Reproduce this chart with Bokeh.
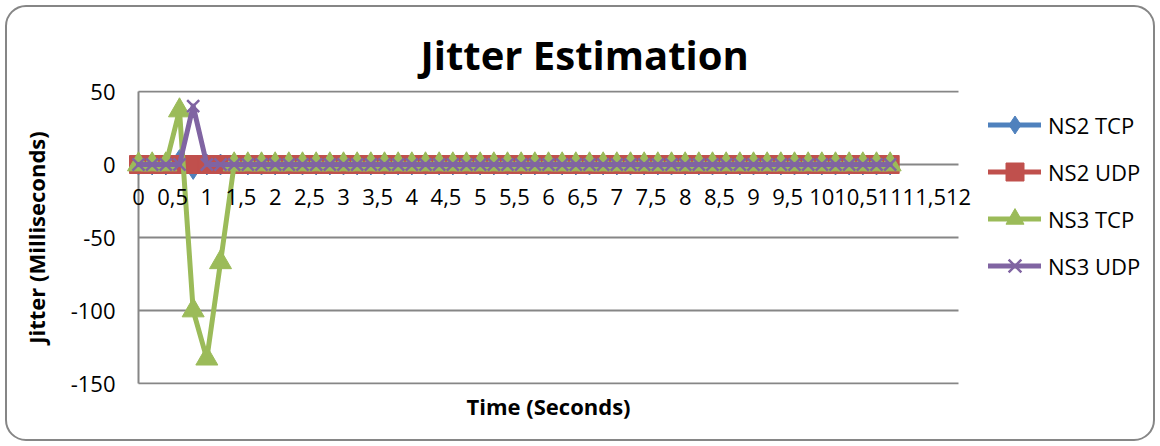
from bokeh.plotting import figure
from bokeh.models import (ColumnDataSource, Legend, LegendItem, LabelSet,
                          FixedTicker, Range1d, Title)
from bokeh.core.properties import value
from bokeh.embed import file_html
from bokeh.resources import INLINE

# Sample times (seconds)
time_s = [0.0, 0.2, 0.4, 0.6, 0.8, 1.0, 1.2, 1.4, 1.6, 1.8,
          2.0, 2.2, 2.4, 2.6, 2.8, 3.0, 3.2, 3.4, 3.6, 3.8,
          4.0, 4.2, 4.4, 4.6, 4.8, 5.0, 5.2, 5.4, 5.6, 5.8,
          6.0, 6.2, 6.4, 6.6, 6.8, 7.0, 7.2, 7.4, 7.6, 7.8,
          8.0, 8.2, 8.4, 8.6, 8.8, 9.0, 9.2, 9.4, 9.6, 9.8,
          10.0, 10.2, 10.4, 10.6, 10.8, 11.0]

# Jitter per simulator / transport (milliseconds)
ns2_tcp = [0, 0, 0, 3, -3, 0, 0, 0, 0, 0,
           0, 0, 0, 0, 0, 0, 0, 0, 0, 0,
           0, 0, 0, 0, 0, 0, 0, 0, 0, 0,
           0, 0, 0, 0, 0, 0, 0, 0, 0, 0,
           0, 0, 0, 0, 0, 0, 0, 0, 0, 0,
           0, 0, 0, 0, 0, 0]
ns2_udp = [0, 0, 0, 0, 0, 0, 0, 0, 0, 0,
           0, 0, 0, 0, 0, 0, 0, 0, 0, 0,
           0, 0, 0, 0, 0, 0, 0, 0, 0, 0,
           0, 0, 0, 0, 0, 0, 0, 0, 0, 0,
           0, 0, 0, 0, 0, 0, 0, 0, 0, 0,
           0, 0, 0, 0, 0, 0]
ns3_tcp = [0, 0, 0, 37, -100, -133, -67, 0, 0, 0,
           0, 0, 0, 0, 0, 0, 0, 0, 0, 0,
           0, 0, 0, 0, 0, 0, 0, 0, 0, 0,
           0, 0, 0, 0, 0, 0, 0, 0, 0, 0,
           0, 0, 0, 0, 0, 0, 0, 0, 0, 0,
           0, 0, 0, 0, 0, 0]
ns3_udp = [0, 0, 0, 0, 40, 0, 0, 0, 0, 0,
           0, 0, 0, 0, 0, 0, 0, 0, 0, 0,
           0, 0, 0, 0, 0, 0, 0, 0, 0, 0,
           0, 0, 0, 0, 0, 0, 0, 0, 0, 0,
           0, 0, 0, 0, 0, 0, 0, 0, 0, 0,
           0, 0, 0, 0, 0, 0]

series_names = ["NS2 TCP", "NS2 UDP", "NS3 TCP", "NS3 UDP"]

x_tick_values = [0, 0.5, 1, 1.5, 2, 2.5, 3, 3.5, 4, 4.5, 5, 5.5, 6,
                 6.5, 7, 7.5, 8, 8.5, 9, 9.5, 10, 10.5, 11, 11.5, 12]
x_tick_labels = ["0", "0,5", "1", "1,5", "2", "2,5", "3", "3,5", "4", "4,5",
                 "5", "5,5", "6", "6,5", "7", "7,5", "8", "8,5", "9", "9,5",
                 "10", "10,5", "11", "11,5", "12"]
y_tick_values = [-150, -100, -50, 0, 50]
y_tick_labels = ["-150", "-100", "-50", "0", "50"]

FONT = "Open Sans"
GREY = "#868686"

# Plot area: 0..12 s spans 820 px, 50..-150 ms spans 292 px.  The frame
# reaches a little left of t = 0 and on to the right edge so that the end
# labels, end markers and the legend are not cut; axis and grid lines are
# drawn over 0..12 s only.
PX_PER_S = 820 / 12
PX_PER_MS = 292 / 200
PAD_LEFT = 20
PAD_RIGHT = 194
PAD_Y = 1

x0, x1 = x_tick_values[0], x_tick_values[-1]
y0, y1 = y_tick_values[0], y_tick_values[-1]

p = figure(width=1160, height=446, output_backend="svg", toolbar_location=None,
           x_range=Range1d(x0 - PAD_LEFT / PX_PER_S, x1 + PAD_RIGHT / PX_PER_S),
           y_range=Range1d(y0 - PAD_Y / PX_PER_MS, y1 + PAD_Y / PX_PER_MS),
           min_border_left=138 - PAD_LEFT, min_border_right=202 - PAD_RIGHT,
           min_border_top=91 - PAD_Y, min_border_bottom=63 - PAD_Y,
           background_fill_color=None, border_fill_color=None)
p.outline_line_color = None
# Rounded chart border drawn behind the transparent canvas
p.styles = {"background-color": "white",
            "outline": "2px solid #868686", "outline-offset": "-7px",
            "border-radius": "26px"}

# Title
p.title.text = "Jitter Estimation"
p.title.text_font = FONT
p.title.text_font_style = "bold"
p.title.text_font_size = "40px"
p.title.text_color = "black"
p.title.align = "left"
p.title.offset = 302
p.title.standoff = 18

# Value axis labels (its line is drawn at t = 0 below)
p.yaxis.ticker = FixedTicker(ticks=y_tick_values)
p.yaxis.major_label_overrides = {v: s for v, s in zip(y_tick_values, y_tick_labels)}
p.yaxis.major_label_text_font = FONT
p.yaxis.major_label_text_font_size = "22px"
p.yaxis.major_label_text_color = "black"
p.yaxis.major_label_standoff = 3
p.yaxis.major_tick_out = 0
p.yaxis.major_tick_in = 0
p.yaxis.minor_tick_out = 0
p.yaxis.minor_tick_in = 0
p.yaxis.axis_line_color = None
p.yaxis.axis_label = "Jitter (Milliseconds)"
p.yaxis.axis_label_text_font = FONT
p.yaxis.axis_label_text_font_style = "bold"
p.yaxis.axis_label_text_font_size = "22px"
p.yaxis.axis_label_text_color = "black"
p.yaxis.axis_label_standoff = 17

# Time axis: its labels sit on the zero line, its title under the plot
p.xaxis.visible = False
p.add_layout(Title(text="Time (Seconds)", text_font=FONT,
                   text_font_style="bold", text_font_size="22px",
                   text_color="black", align="left", offset=348,
                   vertical_align="top", standoff=12), "below")

p.xgrid.visible = False
p.ygrid.visible = False

# Horizontal grid lines across 0..12 s and the value axis line at t = 0
p.segment(x0=x0, x1=x1, y0=y_tick_values, y1=y_tick_values,
          line_color=GREY, line_width=2)
p.segment(x0=x0, x1=x0, y0=y0, y1=y1, line_color=GREY, line_width=2)

src = ColumnDataSource(dict(t=time_s, a=ns2_tcp, b=ns2_udp, c=ns3_tcp, d=ns3_udp))

styles = [
    ("a", "#4F81BD", "diamond", 21),
    ("b", "#C0504D", "square", 18),
    ("c", "#9BBB59", "triangle", 22),
    ("d", "#8064A2", "x", 17),
]
items = []
for name, (col, color, marker, size) in zip(series_names, styles):
    ln = p.line("t", col, source=src, line_color=color, line_width=5,
                line_join="round", line_cap="round")
    if marker == "x":
        mk = p.scatter("t", col, source=src, marker=marker, size=size,
                       line_color=color, line_width=2.5)
    else:
        mk = p.scatter("t", col, source=src, marker=marker, size=size,
                       fill_color=color, line_color=color, line_width=1)
    items.append(LegendItem(label=name, renderers=[ln, mk]))

legend = Legend(items=items, location=(870, 96), margin=0,
                glyph_width=53, glyph_height=45, label_height=20,
                spacing=2, padding=12, label_standoff=7,
                border_line_color=None, background_fill_alpha=0,
                label_text_font=FONT, label_text_font_size="22px",
                label_text_color="black")
p.add_layout(legend)

# Time labels under the zero line
lab_src = ColumnDataSource(dict(x=x_tick_values, text=x_tick_labels))
labels = LabelSet(x="x", y=0, text="text", source=lab_src,
                  text_font=value(FONT), text_font_size=value("22px"),
                  text_color="black", text_align="center",
                  text_baseline="top", y_offset=-24)
p.add_layout(labels)

open("out.html", "w").write(file_html(p, INLINE))
